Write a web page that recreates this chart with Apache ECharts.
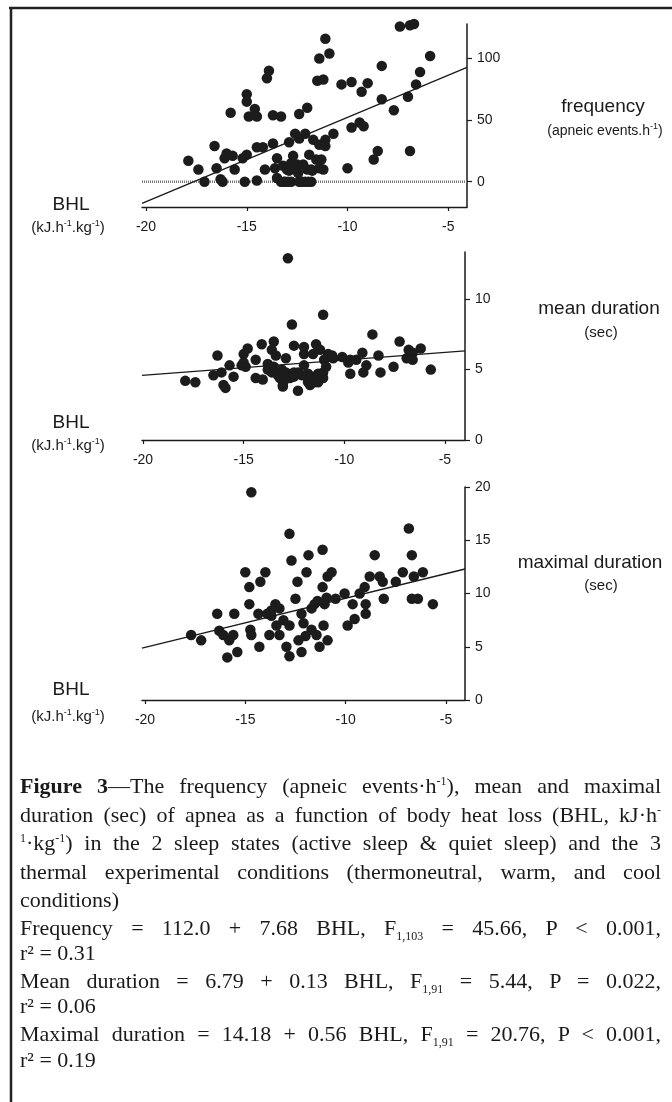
<!DOCTYPE html>
<html>
<head>
<meta charset="utf-8">
<script src="https://cdn.jsdelivr.net/npm/echarts@6/dist/echarts.min.js"></script>
<style>
  html, body { margin: 0; padding: 0; background: #fff; }
  #wrap { position: relative; width: 672px; height: 1102px; }
  #chart { position: absolute; left: 0; top: 0; width: 672px; height: 1102px; }
  #caption { position: absolute; left: 20px; top: 0; width: 641px; font-family: "Liberation Serif", "Times New Roman", serif; font-size: 22px; color: #1a1a1a; }
  #caption .ln { position: absolute; left: 0; width: 641px; height: 24px; line-height: 24px; white-space: nowrap; }
  #caption .j { text-align: justify; text-align-last: justify; white-space: normal; }
  #caption sup, #caption sub { font-size: 12px; line-height: 0; }
</style>
</head>
<body>
<div id="wrap">
  <div id="chart"></div>
  <div id="caption">
    <div class="ln j" style="top:774px"><b>Figure 3</b>—The frequency (apneic events·h<sup>-1</sup>), mean and maximal</div>
    <div class="ln j" style="top:803px">duration (sec) of apnea as a function of body heat loss (BHL, kJ·h<sup>-</sup></div>
    <div class="ln j" style="top:831px"><sup>1</sup>·kg<sup>-1</sup>) in the 2 sleep states (active sleep &amp; quiet sleep) and the 3</div>
    <div class="ln j" style="top:860px">thermal experimental conditions (thermoneutral, warm, and cool</div>
    <div class="ln" style="top:888px">conditions)</div>
    <div class="ln j" style="top:916px">Frequency = 112.0 + 7.68 BHL, F<sub>1,103</sub> = 45.66, P &lt; 0.001,</div>
    <div class="ln" style="top:941px">r² = 0.31</div>
    <div class="ln j" style="top:969px">Mean duration = 6.79 + 0.13 BHL, F<sub>1,91</sub> = 5.44, P = 0.022,</div>
    <div class="ln" style="top:994px">r² = 0.06</div>
    <div class="ln j" style="top:1022px">Maximal duration = 14.18 + 0.56 BHL, F<sub>1,91</sub> = 20.76, P &lt; 0.001,</div>
    <div class="ln" style="top:1048px">r² = 0.19</div>
  </div>
</div>
<script>
// x tick labels shared by the three panels
var bhlTicks = [-20, -15, -10, -5];

// frequency (apneic events per hour) vs BHL
var freqX = [-17.9, -17.4, -17.1, -16.6, -16.5, -16.3, -16.2, -16.1, -16.0, -15.8,
  -15.7, -15.6, -15.2, -15.0, -15.0, -15.1, -15.0, -14.9, -14.6, -14.5,
  -14.5, -14.5, -14.2, -14.1, -14.0, -13.9, -13.7, -13.7, -13.3, -13.6,
  -13.5, -13.5, -13.3, -13.1, -12.9, -13.0, -12.8, -12.7, -12.6, -12.8,
  -12.6, -12.4, -12.4, -12.2, -12.4, -12.1, -12.0, -12.1, -11.8, -11.9,
  -11.8, -11.7, -11.5, -11.2, -11.4, -11.1, -10.9, -11.4, -11.3, -11.2,
  -11.1, -11.1, -10.7, -10.3, -10.0, -9.8, -9.8, -9.4, -9.2, -9.3,
  -9.0, -8.7, -8.5, -8.3, -8.3, -7.7, -7.4, -6.9, -6.7, -7.0,
  -6.9, -6.6, -6.4, -5.9, -13.2, -12.9, -12.5, -12.45, -12.0, -11.75,
  -11.55, -11.4, -13.15, -12.95, -12.25, -11.95];
var freqY = [17, 10, 0, 29, 11, 2, 0, 19, 23, 56,
  21, 10, 19, 71, 65, 0, 22, 53, 59, 1,
  53, 28, 28, 10, 84, 90, 31, 54, 53, 11,
  19, 3, 0, 0, 32, 10, 15, 21, 11, 0,
  39, 35, 55, 14, 0, 39, 60, 0, 0, 22,
  10, 34, 82, 83, 100, 116, 104, 30, 18, 10,
  34, 29, 39, 79, 11, 81, 44, 48, 45, 73,
  80, 18, 25, 94, 67, 58, 126, 127, 128, 69,
  25, 79, 89, 102, 13, 9, 14, 7, 10, 9,
  18, 11, 0, 0, 0, 0];
var freqFitX = [-20.2, -4.07];
var freqFitY = [-17.5, 92.8];
var freqTicks = [0, 50, 100];

// mean apnea duration (sec) vs BHL
var meanX = [-17.9, -17.4, -16.5, -16.3, -16.1, -16.0, -15.9, -15.7, -15.5, -15.1,
  -15.0, -14.8, -14.9, -14.4, -14.4, -14.1, -14.05, -13.8, -13.6, -13.5,
  -13.4, -13.6, -13.3, -13.05, -12.9, -12.9, -12.8, -12.6, -12.5, -12.7,
  -12.5, -12.3, -12.1, -12.0, -12.0, -11.8, -11.7, -11.55, -11.4, -11.3,
  -11.2, -11.05, -11.0, -11.05, -10.8, -10.55, -10.1, -9.8, -9.7, -9.4,
  -9.1, -9.05, -8.9, -8.6, -8.3, -8.2, -7.55, -7.25, -6.9, -6.8,
  -6.6, -6.2, -5.7, -12.0, -11.6, -11.3, -13.1, -13.0, -12.3, -11.8,
  -13.05, -13.8, -11.05, -10.9, -11.5, -13.5, -13.2, -12.5, -11.9, -10.6,
  -9.7, -6.6, -15.0];
var meanY = [4.2, 4.1, 4.6, 6.0, 4.8, 3.9, 3.7, 5.3, 4.5, 5.3,
  6.1, 6.5, 5.2, 5.7, 4.4, 6.8, 4.3, 5.4, 6.4, 7.0,
  6.0, 4.8, 4.6, 3.9, 5.8, 4.8, 12.9, 8.2, 6.7, 4.4,
  4.8, 3.5, 4.6, 6.6, 6.1, 4.7, 3.9, 6.1, 6.8, 4.1,
  6.4, 8.9, 5.7, 4.4, 6.1, 5.8, 5.9, 5.5, 4.7, 5.7,
  6.2, 4.8, 5.3, 7.5, 6.0, 4.8, 5.2, 7.0, 5.8, 6.4,
  5.7, 6.5, 5.0, 5.3, 4.5, 4.7, 5.0, 4.2, 4.8, 4.1,
  3.8, 5.0, 4.8, 5.2, 4.1, 5.2, 4.4, 4.5, 4.6, 6.0,
  5.7, 6.2, 5.5];
var meanFitX = [-20.05, -4.0];
var meanFitY = [4.59, 6.33];
var meanTicks = [0, 5, 10];

// maximal apnea duration (sec) vs BHL
var maxX = [-17.7, -17.2, -16.4, -16.3, -16.1, -15.9, -15.8, -15.6, -15.55, -15.4,
  -15.0, -14.8, -14.8, -14.75, -14.7, -14.7, -14.35, -14.3, -14.25, -14.0,
  -13.9, -13.8, -13.7, -13.5, -13.45, -13.3, -13.3, -13.1, -12.95, -12.8,
  -12.8, -12.7, -12.8, -12.5, -12.4, -12.35, -12.2, -12.2, -12.1, -11.95,
  -11.85, -11.7, -11.7, -11.55, -11.45, -11.3, -11.15, -11.15, -11.1, -11.05,
  -10.95, -10.9, -10.9, -10.7, -10.5, -10.05, -9.9, -9.65, -9.55, -9.3,
  -9.05, -9.0, -9.0, -8.8, -8.55, -8.3, -8.15, -8.1, -7.5, -7.15,
  -6.85, -6.7, -6.6, -6.7, -6.4, -6.15, -5.65, -13.7, -11.4, -12.0];
var maxY = [6.1, 5.6, 8.1, 6.5, 6.1, 4.0, 5.6, 6.1, 8.1, 4.5,
  12.0, 10.6, 9.0, 6.6, 6.1, 19.5, 8.1, 5.0, 11.1, 12.0,
  8.1, 6.1, 8.4, 9.0, 7.0, 6.1, 8.6, 7.5, 5.0, 15.6,
  7.0, 13.1, 4.1, 9.5, 11.1, 5.6, 8.1, 4.5, 7.2, 12.0,
  13.6, 8.6, 6.6, 9.0, 6.1, 5.0, 14.1, 10.6, 7.0, 9.0,
  9.6, 5.6, 11.6, 12.0, 9.5, 10.0, 7.0, 9.0, 7.6, 10.0,
  10.6, 9.0, 8.1, 11.6, 13.6, 11.6, 11.1, 9.5, 11.1, 12.0,
  16.1, 13.6, 11.6, 9.5, 9.5, 12.0, 9.0, 7.9, 9.3, 6.0];
var maxFitX = [-20.15, -4.05];
var maxFitY = [4.88, 12.3];
var maxTicks = [0, 5, 10, 15, 20];

var zeroLineX = [-20.2, -4.07];
var zeroLineY = [0, 0];

function pairs(xs, ys) {
  return xs.map(function (x, i) { return [x, ys[i]]; });
}

var sans = '"Liberation Sans", Arial, sans-serif';
var ink = '#1a1a1a';

// panel layout: grid boxes and axis extents
var panels = [
  { top: 24, height: 183, left: 142, right: 205, xmin: -20.2, xmax: -4.07, ymin: -20.5, ymax: 128, ticks: freqTicks },
  { top: 252, height: 188, left: 142, right: 207, xmin: -20.05, xmax: -4.0, ymin: 0, ymax: 13.35, ticks: meanTicks },
  { top: 487, height: 213, left: 142, right: 207, xmin: -20.15, xmax: -4.05, ymin: 0, ymax: 20, ticks: maxTicks }
];

var grid = panels.map(function (p) {
  return { left: p.left, right: p.right, top: p.top, height: p.height, containLabel: false };
});

var xAxis = panels.map(function (p, i) {
  return {
    type: 'value', gridIndex: i, min: p.xmin, max: p.xmax,
    axisLine: { onZero: false, lineStyle: { color: ink, width: 1.4 } },
    axisTick: { show: true, length: 4, lineStyle: { color: ink, width: 1.2 }, customValues: bhlTicks },
    axisLabel: { customValues: bhlTicks, margin: 13, color: ink, fontSize: 14, fontFamily: sans },
    splitLine: { show: false }
  };
});

var yAxis = panels.map(function (p, i) {
  return {
    type: 'value', gridIndex: i, position: 'right', min: p.ymin, max: p.ymax,
    axisLine: { show: true, onZero: false, lineStyle: { color: ink, width: 1.5 } },
    axisTick: { show: true, length: 5, lineStyle: { color: ink, width: 1.2 }, customValues: p.ticks },
    axisLabel: { customValues: p.ticks, margin: 10, color: ink, fontSize: 14, fontFamily: sans },
    splitLine: { show: false }
  };
});

function dots(xs, ys, i) {
  return {
    type: 'scatter', xAxisIndex: i, yAxisIndex: i, data: pairs(xs, ys),
    symbolSize: 10.5, clip: false, z: 3,
    itemStyle: { color: '#1c1c1c', opacity: 1 }
  };
}

function fit(xs, ys, i) {
  return {
    type: 'line', xAxisIndex: i, yAxisIndex: i, data: pairs(xs, ys),
    showSymbol: false, symbol: 'none', z: 4,
    lineStyle: { color: ink, width: 1.3 }
  };
}

var series = [
  {
    type: 'line', xAxisIndex: 0, yAxisIndex: 0, data: pairs(zeroLineX, zeroLineY),
    symbol: 'none', z: 2,
    lineStyle: { color: '#7a7a7a', width: 2.5, type: [1, 1] }
  },
  dots(freqX, freqY, 0), fit(freqFitX, freqFitY, 0),
  dots(meanX, meanY, 1), fit(meanFitX, meanFitY, 1),
  dots(maxX, maxY, 2), fit(maxFitX, maxFitY, 2)
];

function label(x, y, text, size, rich) {
  var style = {
    text: text, fill: ink, fontSize: size, fontFamily: sans,
    textAlign: 'center', textVerticalAlign: 'middle'
  };
  if (rich) style.rich = rich;
  return { type: 'text', x: x, y: y, style: style, silent: true };
}

var unitRich = {
  a: { fontSize: 15, fontFamily: sans, fill: ink, lineHeight: 18 },
  s: { fontSize: 9, fontFamily: sans, fill: ink, verticalAlign: 'top', lineHeight: 18 }
};
var unitText = '{a|(kJ.h}{s|-1}{a|.kg}{s|-1}{a|)}';
var apneicRich = {
  a: { fontSize: 14, fontFamily: sans, fill: ink, lineHeight: 17 },
  s: { fontSize: 9, fontFamily: sans, fill: ink, verticalAlign: 'top', lineHeight: 17 }
};

var graphic = [
  { type: 'line', shape: { x1: 9, y1: 8, x2: 672, y2: 8 }, style: { stroke: '#222', lineWidth: 2.5 }, silent: true },
  { type: 'line', shape: { x1: 11, y1: 7, x2: 11, y2: 1102 }, style: { stroke: '#222', lineWidth: 2.5 }, silent: true },

  label(71, 205, 'BHL', 19),
  label(68, 228, unitText, 15, unitRich),
  label(71, 423, 'BHL', 19),
  label(68, 446, unitText, 15, unitRich),
  label(71, 690, 'BHL', 19),
  label(68, 717, unitText, 15, unitRich),

  label(603, 107, 'frequency', 19),
  label(605, 131, '{a|(apneic events.h}{s|-1}{a|)}', 14, apneicRich),
  label(599, 309, 'mean duration', 19),
  label(601, 333, '(sec)', 15),
  label(590, 563, 'maximal duration', 19),
  label(601, 586, '(sec)', 15)
];

var chart = echarts.init(document.getElementById('chart'), null, { renderer: 'canvas' });
chart.setOption({
  animation: false,
  backgroundColor: '#fff',
  grid: grid,
  xAxis: xAxis,
  yAxis: yAxis,
  series: series,
  graphic: graphic
});
</script>
</body>
</html>
